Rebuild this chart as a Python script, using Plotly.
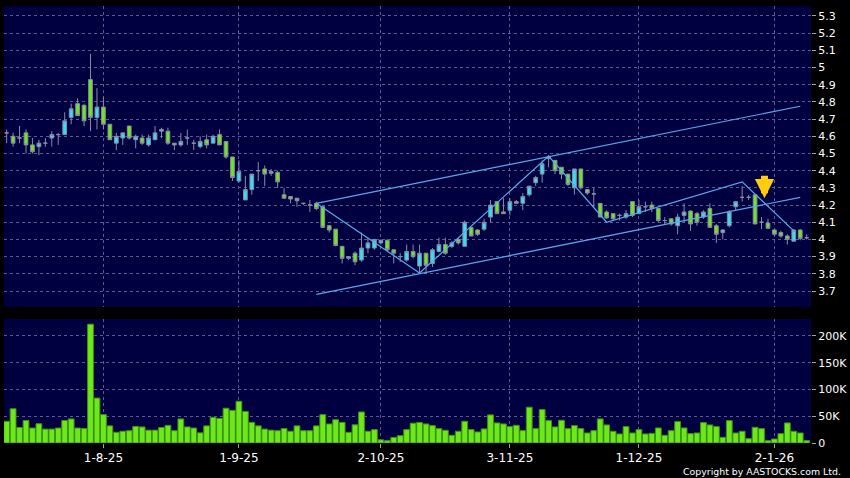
import pandas as pd
import plotly.graph_objects as go

# ---------------- data ----------------
HOLIDAYS = ["2025-10-01", "2025-10-07", "2025-10-29", "2025-12-25", "2025-12-26", "2026-01-01"]
dates = [d.strftime("%Y-%m-%d") for d in pd.bdate_range("2025-07-11", "2026-01-09")
         if d.strftime("%Y-%m-%d") not in HOLIDAYS]

opens = [4.62, 4.60, 4.59, 4.62, 4.55, 4.54, 4.56, 4.59, 4.61, 4.61,
         4.71, 4.79, 4.78, 4.93, 4.71, 4.77, 4.67, 4.56, 4.59, 4.66,
         4.58, 4.59, 4.55, 4.58, 4.63, 4.63, 4.56, 4.55, 4.59, 4.56,
         4.54, 4.58, 4.56, 4.61, 4.57, 4.48, 4.34, 4.23, 4.29, 4.40,
         4.41, 4.385, 4.39, 4.26, 4.25, 4.24, 4.21, 4.20, 4.21, 4.19,
         4.08, 4.06, 3.96, 3.89, 3.92, 3.88, 3.95, 3.95, 3.98, 3.995,
         3.94, 3.90, 3.88, 3.93, 3.845, 3.92, 3.86, 3.93, 3.97, 3.96,
         4.00, 3.96, 4.07, 4.055, 4.06, 4.13, 4.22, 4.16, 4.17, 4.22,
         4.21, 4.26, 4.33, 4.38, 4.48, 4.46, 4.42, 4.38, 4.30, 4.41,
         4.29, 4.265, 4.21, 4.16, 4.15, 4.14, 4.13, 4.22, 4.15, 4.19,
         4.20, 4.18, 4.11, 4.12, 4.08, 4.14, 4.165, 4.15, 4.13, 4.18,
         4.08, 4.04, 4.08, 4.19, 4.245, 4.245, 4.26, 4.10, 4.095, 4.055,
         4.04, 4.02, 3.99, 4.055, 4.01]
highs = [4.64, 4.62, 4.66, 4.64, 4.59, 4.58, 4.59, 4.63, 4.62, 4.74,
         4.79, 4.82, 4.79, 5.08, 4.88, 4.83, 4.67, 4.62, 4.62, 4.66,
         4.61, 4.61, 4.61, 4.66, 4.65, 4.65, 4.56, 4.62, 4.64, 4.58,
         4.60, 4.61, 4.61, 4.64, 4.57, 4.48, 4.46, 4.37, 4.38, 4.45,
         4.43, 4.41, 4.40, 4.30, 4.25, 4.24, 4.21, 4.23, 4.22, 4.19,
         4.08, 4.06, 3.96, 3.90, 3.93, 4.04, 4.01, 4.00, 4.00, 4.00,
         3.94, 3.92, 3.97, 3.97, 3.97, 3.92, 3.95, 4.01, 4.01, 3.99,
         4.01, 4.11, 4.07, 4.06, 4.12, 4.23, 4.22, 4.24, 4.24, 4.23,
         4.27, 4.31, 4.37, 4.46, 4.49, 4.46, 4.42, 4.38, 4.41, 4.41,
         4.29, 4.30, 4.21, 4.17, 4.15, 4.15, 4.17, 4.22, 4.23, 4.22,
         4.22, 4.18, 4.13, 4.12, 4.15, 4.21, 4.17, 4.16, 4.17, 4.21,
         4.09, 4.06, 4.17, 4.22, 4.31, 4.26, 4.26, 4.13, 4.12, 4.06,
         4.05, 4.03, 4.06, 4.06, 4.03]
lows = [4.56, 4.54, 4.56, 4.50, 4.50, 4.49, 4.54, 4.54, 4.55, 4.61,
        4.67, 4.72, 4.66, 4.63, 4.64, 4.64, 4.58, 4.52, 4.55, 4.58,
        4.53, 4.55, 4.54, 4.58, 4.59, 4.55, 4.52, 4.54, 4.55, 4.52,
        4.53, 4.53, 4.56, 4.55, 4.47, 4.34, 4.33, 4.23, 4.26, 4.34,
        4.31, 4.37, 4.30, 4.235, 4.21, 4.19, 4.20, 4.16, 4.17, 4.07,
        4.04, 3.96, 3.86, 3.88, 3.85, 3.87, 3.92, 3.94, 3.97, 3.93,
        3.86, 3.87, 3.87, 3.89, 3.81, 3.80, 3.84, 3.93, 3.91, 3.95,
        3.97, 3.96, 4.02, 4.02, 4.05, 4.10, 4.15, 4.15, 4.14, 4.21,
        4.17, 4.25, 4.31, 4.33, 4.42, 4.38, 4.35, 4.31, 4.26, 4.29,
        4.26, 4.19, 4.13, 4.12, 4.11, 4.11, 4.12, 4.13, 4.15, 4.16,
        4.16, 4.10, 4.09, 4.08, 4.03, 4.10, 4.05, 4.08, 4.12, 4.07,
        3.98, 4.00, 4.07, 4.17, 4.22, 4.23, 4.09, 4.06, 4.06, 4.02,
        4.01, 3.97, 3.99, 3.995, 4.00]
closes = [4.62, 4.56, 4.59, 4.55, 4.51, 4.56, 4.56, 4.61, 4.61, 4.69,
          4.76, 4.72, 4.69, 4.71, 4.77, 4.67, 4.58, 4.60, 4.62, 4.59,
          4.60, 4.56, 4.59, 4.62, 4.64, 4.56, 4.55, 4.57, 4.59, 4.56,
          4.57, 4.55, 4.60, 4.55, 4.48, 4.36, 4.395, 4.29, 4.38, 4.40,
          4.38, 4.395, 4.335, 4.24, 4.235, 4.225, 4.21, 4.20, 4.18, 4.07,
          4.055, 3.965, 3.89, 3.90, 3.87, 3.95, 3.98, 4.00, 3.995, 3.94,
          3.92, 3.90, 3.93, 3.90, 3.92, 3.85, 3.94, 3.97, 3.92, 3.98,
          3.98, 4.10, 4.02, 4.03, 4.10, 4.20, 4.15, 4.15, 4.22, 4.21,
          4.25, 4.31, 4.36, 4.44, 4.47, 4.40, 4.38, 4.32, 4.41, 4.30,
          4.27, 4.265, 4.13, 4.125, 4.12, 4.14, 4.15, 4.14, 4.19, 4.19,
          4.18, 4.11, 4.11, 4.09, 4.13, 4.16, 4.09, 4.10, 4.16, 4.07,
          4.03, 4.055, 4.16, 4.22, 4.245, 4.245, 4.09, 4.10, 4.065, 4.03,
          4.02, 4.00, 4.055, 4.005, 4.01]
volume_k = [40.6, 64, 29, 42, 28, 36, 26, 26, 28, 42,
            45, 28, 27, 222, 84, 53, 32, 20, 22, 23,
            31, 30, 24, 24, 29, 33, 23, 45, 30, 28,
            19, 32, 48, 46, 65, 61, 78, 59, 38.5, 32,
            26, 24, 23, 27, 22, 32, 23, 23, 32, 53,
            35.5, 43.6, 38.5, 20, 34, 58, 22, 25, 6, 4.3,
            10.5, 13.6, 25, 37, 38.5, 35.6, 32.5, 26.9, 23.8, 14.4,
            21.9, 40.6, 25, 20.6, 26.3, 52.5, 37.5, 35.6, 30.6, 33.1,
            23.1, 66.9, 26.9, 62.5, 41.9, 30, 42.5, 26.9, 32.5, 26.9,
            18.75, 23.1, 45, 33.75, 21.9, 16.9, 30.6, 18.75, 25, 16.9,
            18.1, 28.1, 14.4, 23.1, 40, 28.1, 17.5, 18.75, 38.1, 33.75,
            30.6, 10.6, 41.9, 18.75, 21.9, 8.1, 29.4, 26.9, 4.4, 7.5,
            17.5, 37.5, 21.9, 18.75, 4.4]

tick_dates = ["2025-08-01", "2025-09-01", "2025-10-02", "2025-11-03", "2025-12-01", "2026-01-02"]
tick_labels = ["1-8-25", "1-9-25", "2-10-25", "3-11-25", "1-12-25", "2-1-26"]

price_ticks = [3.7, 3.8, 3.9, 4.0, 4.1, 4.2, 4.3, 4.4, 4.5, 4.6, 4.7, 4.8, 4.9, 5.0, 5.1, 5.2, 5.3]
vol_ticks = [0, 50000, 100000, 150000, 200000]
vol_tick_labels = ["0", "50K", "100K", "150K", "200K"]

# drawn trend lines (date, price)
upper_channel = [("2025-09-17", 4.21), ("2026-01-08", 4.775)]
lower_channel = [("2025-09-17", 3.68), ("2026-01-08", 4.245)]
zigzag = [("2025-09-17", 4.21), ("2025-10-13", 3.805), ("2025-11-11", 4.485),
          ("2025-11-24", 4.10), ("2025-12-23", 4.335), ("2026-01-07", 4.05)]
arrow_point = ("2025-12-30", 4.24)

# ---------------- figure ----------------
pos = {d: i for i, d in enumerate(dates)}
xi = list(range(len(dates)))
tickpos = [pos[d] for d in tick_dates]
volumes = [v * 1000 for v in volume_k]

CYAN = "#36def0"
GREEN = "#6de81b"
WICK = "#8a8aa6"
GRID = "#5a5a8e"
LINE = "#56aaec"
FONT = "DejaVu Sans"

fig = go.Figure()
fig.add_trace(go.Candlestick(
    x=xi, open=opens, high=highs, low=lows, close=closes,
    increasing=dict(fillcolor=CYAN, line=dict(color=WICK, width=1)),
    decreasing=dict(fillcolor=GREEN, line=dict(color=WICK, width=1)),
    whiskerwidth=0, xaxis="x", yaxis="y", showlegend=False, hoverinfo="skip"))

for seg in (upper_channel, lower_channel, zigzag):
    fig.add_trace(go.Scatter(
        x=[pos[d] for d, _ in seg], y=[p for _, p in seg], mode="lines",
        line=dict(color=LINE, width=1.2), xaxis="x", yaxis="y",
        showlegend=False, hoverinfo="skip"))

fig.add_trace(go.Bar(
    x=xi, y=volumes, xaxis="x2", yaxis="y2",
    marker=dict(color=GREEN, line=dict(color="#3c9212", width=1)),
    showlegend=False, hoverinfo="skip"))

fig.add_annotation(
    x=pos[arrow_point[0]], y=arrow_point[1], xref="x", yref="y", xshift=3,
    text="", showarrow=True, ax=0, ay=-24, axref="pixel", ayref="pixel",
    arrowhead=2, arrowsize=0.55, arrowwidth=7, arrowcolor="#ffcc10")

fig.add_annotation(
    x=843 / 850, y=1 - 471 / 478, xref="paper", yref="paper",
    xanchor="right", yanchor="middle", showarrow=False,
    text="Copyright by AASTOCKS.com Ltd.",
    font=dict(family=FONT, size=9.4, color="white"))

xdom = [4 / 850, 811 / 850]
xrange = [-0.41, 124.67]
tickfont = dict(family=FONT, size=11, color="white")

common_x = dict(domain=xdom, range=xrange, tickmode="array", tickvals=tickpos,
                showgrid=True, gridcolor=GRID, griddash="3px,3px", gridwidth=1,
                zeroline=False, showline=False)

fig.update_layout(
    width=850, height=478,
    margin=dict(l=0, r=0, t=0, b=0),
    paper_bgcolor="black", plot_bgcolor="#000040",
    boxgap=0.18, bargap=0.1, showlegend=False,
    xaxis=dict(**common_x, anchor="y", showticklabels=False, ticks="",
               rangeslider=dict(visible=False)),
    xaxis2=dict(**common_x, anchor="y2", ticktext=tick_labels, ticks="outside",
                ticklen=4, tickcolor="#a0a0a0", tickfont=dict(family=FONT, size=12, color="white")),
    yaxis=dict(domain=[1 - 307 / 478, 1 - 6 / 478], range=[3.607, 5.358], anchor="x",
               side="right", tickmode="array", tickvals=price_ticks,
               ticktext=[f"{v:g}" for v in price_ticks],
               ticks="outside", ticklen=4, tickcolor="#a0a0a0", tickfont=tickfont,
               showgrid=True, gridcolor=GRID, griddash="3px,3px", gridwidth=1,
               zeroline=False, showline=False, automargin=False),
    yaxis2=dict(domain=[1 - 443 / 478, 1 - 319 / 478], range=[0, 231700], anchor="x2",
                side="right", tickmode="array", tickvals=vol_ticks, ticktext=vol_tick_labels,
                ticks="outside", ticklen=4, tickcolor="#a0a0a0", tickfont=tickfont,
                showgrid=True, gridcolor=GRID, griddash="3px,3px", gridwidth=1,
                zeroline=False, showline=False, automargin=False),
)

fig.write_html("out.html", config={"displayModeBar": False},
               post_script="document.body.style.margin='0px';document.body.style.background='black';")
